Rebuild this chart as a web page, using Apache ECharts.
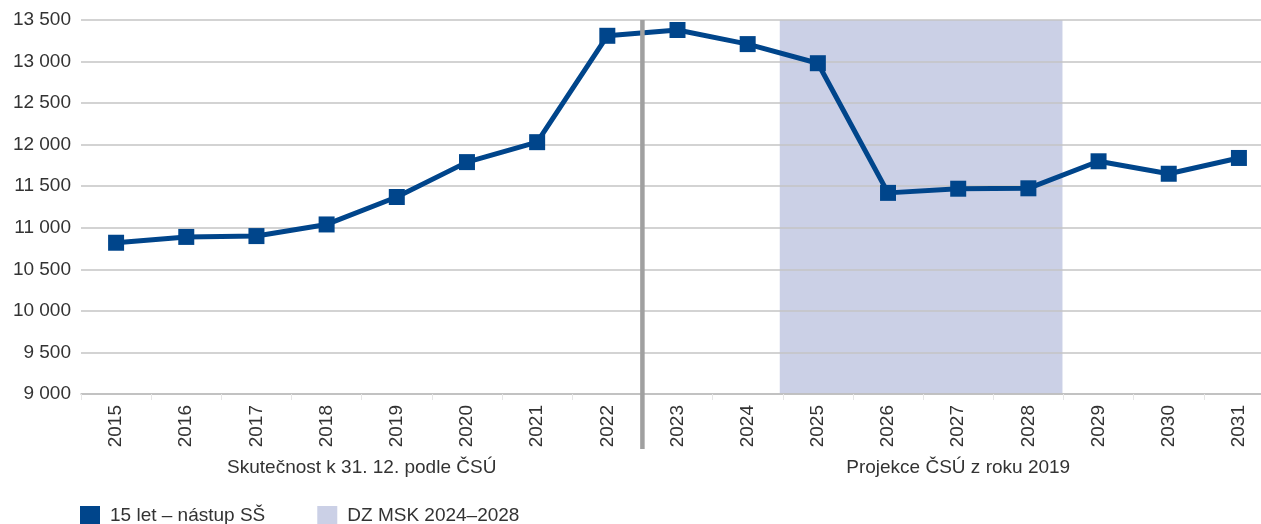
<!DOCTYPE html>
<html>
<head>
<meta charset="utf-8">
<script src="https://cdn.jsdelivr.net/npm/echarts@6/dist/echarts.min.js"></script>
<style>
html,body{margin:0;padding:0;background:#fff;}
#c{width:1261px;height:524px;}
</style>
</head>
<body>
<div id="c"></div>
<script>
// ---- data ----
const categories = ['2015','2016','2017','2018','2019','2020','2021','2022','2023','2024','2025','2026','2027','2028','2029','2030','2031'];
const pupils15 = [10820, 10890, 10900, 11040, 11370, 11790, 12030, 13310, 13380, 13210, 12980, 11420, 11470, 11475, 11800, 11650, 11840];
const seriesName = '15 let – nástup SŠ';
const bandName = 'DZ MSK 2024–2028';
const bandFrom = '2025';
const bandTo = '2028';
const groupLabels = ['Skutečnost k 31. 12. podle ČSÚ', 'Projekce ČSÚ z roku 2019'];
const groupFrom = ['2015', '2023'];
const groupTo = ['2022', '2031'];
const dividerAfter = '2022';
const yMin = 9000, yMax = 13500, yStep = 500;

// ---- chart ----
const FONT = '"Liberation Sans", Arial, sans-serif';
const TXT = '#333333';
const BLUE = '#00458b';
const BAND = '#cbd0e6';

const i0 = categories.indexOf(bandFrom), i1 = categories.indexOf(bandTo);
const fmt = v => String(v).replace(/\B(?=(\d{3})+(?!\d))/g, ' ');

const chart = echarts.init(document.getElementById('c'), null, {renderer: 'canvas'});
chart.setOption({
  animation: false,
  textStyle: {fontFamily: FONT},
  grid: {left: 81, width: 1193, top: 20, height: 374, containLabel: false, outerBoundsMode: 'none'},
  legend: {
    left: 80, top: 506, padding: 0, itemWidth: 20, itemHeight: 20, itemGap: 52,
    textStyle: {fontSize: 19, color: TXT, fontFamily: FONT, padding: [0, 0, 0, 5]},
    data: [
      {name: seriesName, icon: 'rect', itemStyle: {color: BLUE}},
      {name: bandName, icon: 'rect', itemStyle: {color: BAND}}
    ]
  },
  xAxis: {
    type: 'category', data: categories, boundaryGap: true,
    axisLine: {lineStyle: {color: '#bdbdbd', width: 1.5}},
    axisTick: {show: true, length: 6, lineStyle: {color: '#e6e6e6'}},
    axisLabel: {rotate: 90, margin: 11, fontSize: 19, color: TXT, fontFamily: FONT}
  },
  yAxis: {
    type: 'value', min: yMin, max: yMax, interval: yStep,
    axisLine: {show: false}, axisTick: {show: false},
    axisLabel: {formatter: fmt, margin: 10, fontSize: 19, color: TXT, fontFamily: FONT},
    splitLine: {lineStyle: {color: '#c4c4c4', width: 1.5}}
  },
  series: [{
    name: bandName, type: 'custom', data: [[i0, i1]], silent: true, z: -1,
    encode: {x: 0, y: 1},
    itemStyle: {color: BAND},
    renderItem: (params, api) => {
      const a = api.coord([api.value(0), yMax]);
      const b = api.coord([api.value(1), yMin]);
      const w = api.size([1, 0])[0];
      return {type: 'rect', shape: {x: a[0] - w / 2 - 3, y: a[1], width: b[0] - a[0] + w + 2, height: b[1] - a[1]}, style: {fill: BAND}};
    }
  }, {
    name: seriesName, type: 'line', data: pupils15, z: 5,
    symbol: 'rect', symbolSize: 16, showSymbol: true,
    lineStyle: {color: BLUE, width: 5},
    itemStyle: {color: BLUE}
  }]
});

// divider & group labels, positioned through the axis scale
const px = c => chart.convertToPixel({xAxisIndex: 0}, c);
const pyTop = chart.convertToPixel({yAxisIndex: 0}, yMax);
const pyBot = chart.convertToPixel({yAxisIndex: 0}, yMin);
const di = categories.indexOf(dividerAfter);
const dx = (px(categories[di]) + px(categories[di + 1])) / 2;
const graphics = [{
  type: 'line', z: 10,
  shape: {x1: dx, y1: pyTop, x2: dx, y2: pyBot + 55},
  style: {stroke: '#a0a0a0', lineWidth: 4.5}
}];
groupLabels.forEach((t, k) => {
  const cx = (px(groupFrom[k]) + px(groupTo[k])) / 2;
  graphics.push({
    type: 'text', z: 10, x: cx, y: pyBot + 74,
    style: {text: t, fontSize: 19, fill: TXT, fontFamily: FONT, align: 'center', verticalAlign: 'middle'}
  });
});
chart.setOption({graphic: graphics});
</script>
</body>
</html>
